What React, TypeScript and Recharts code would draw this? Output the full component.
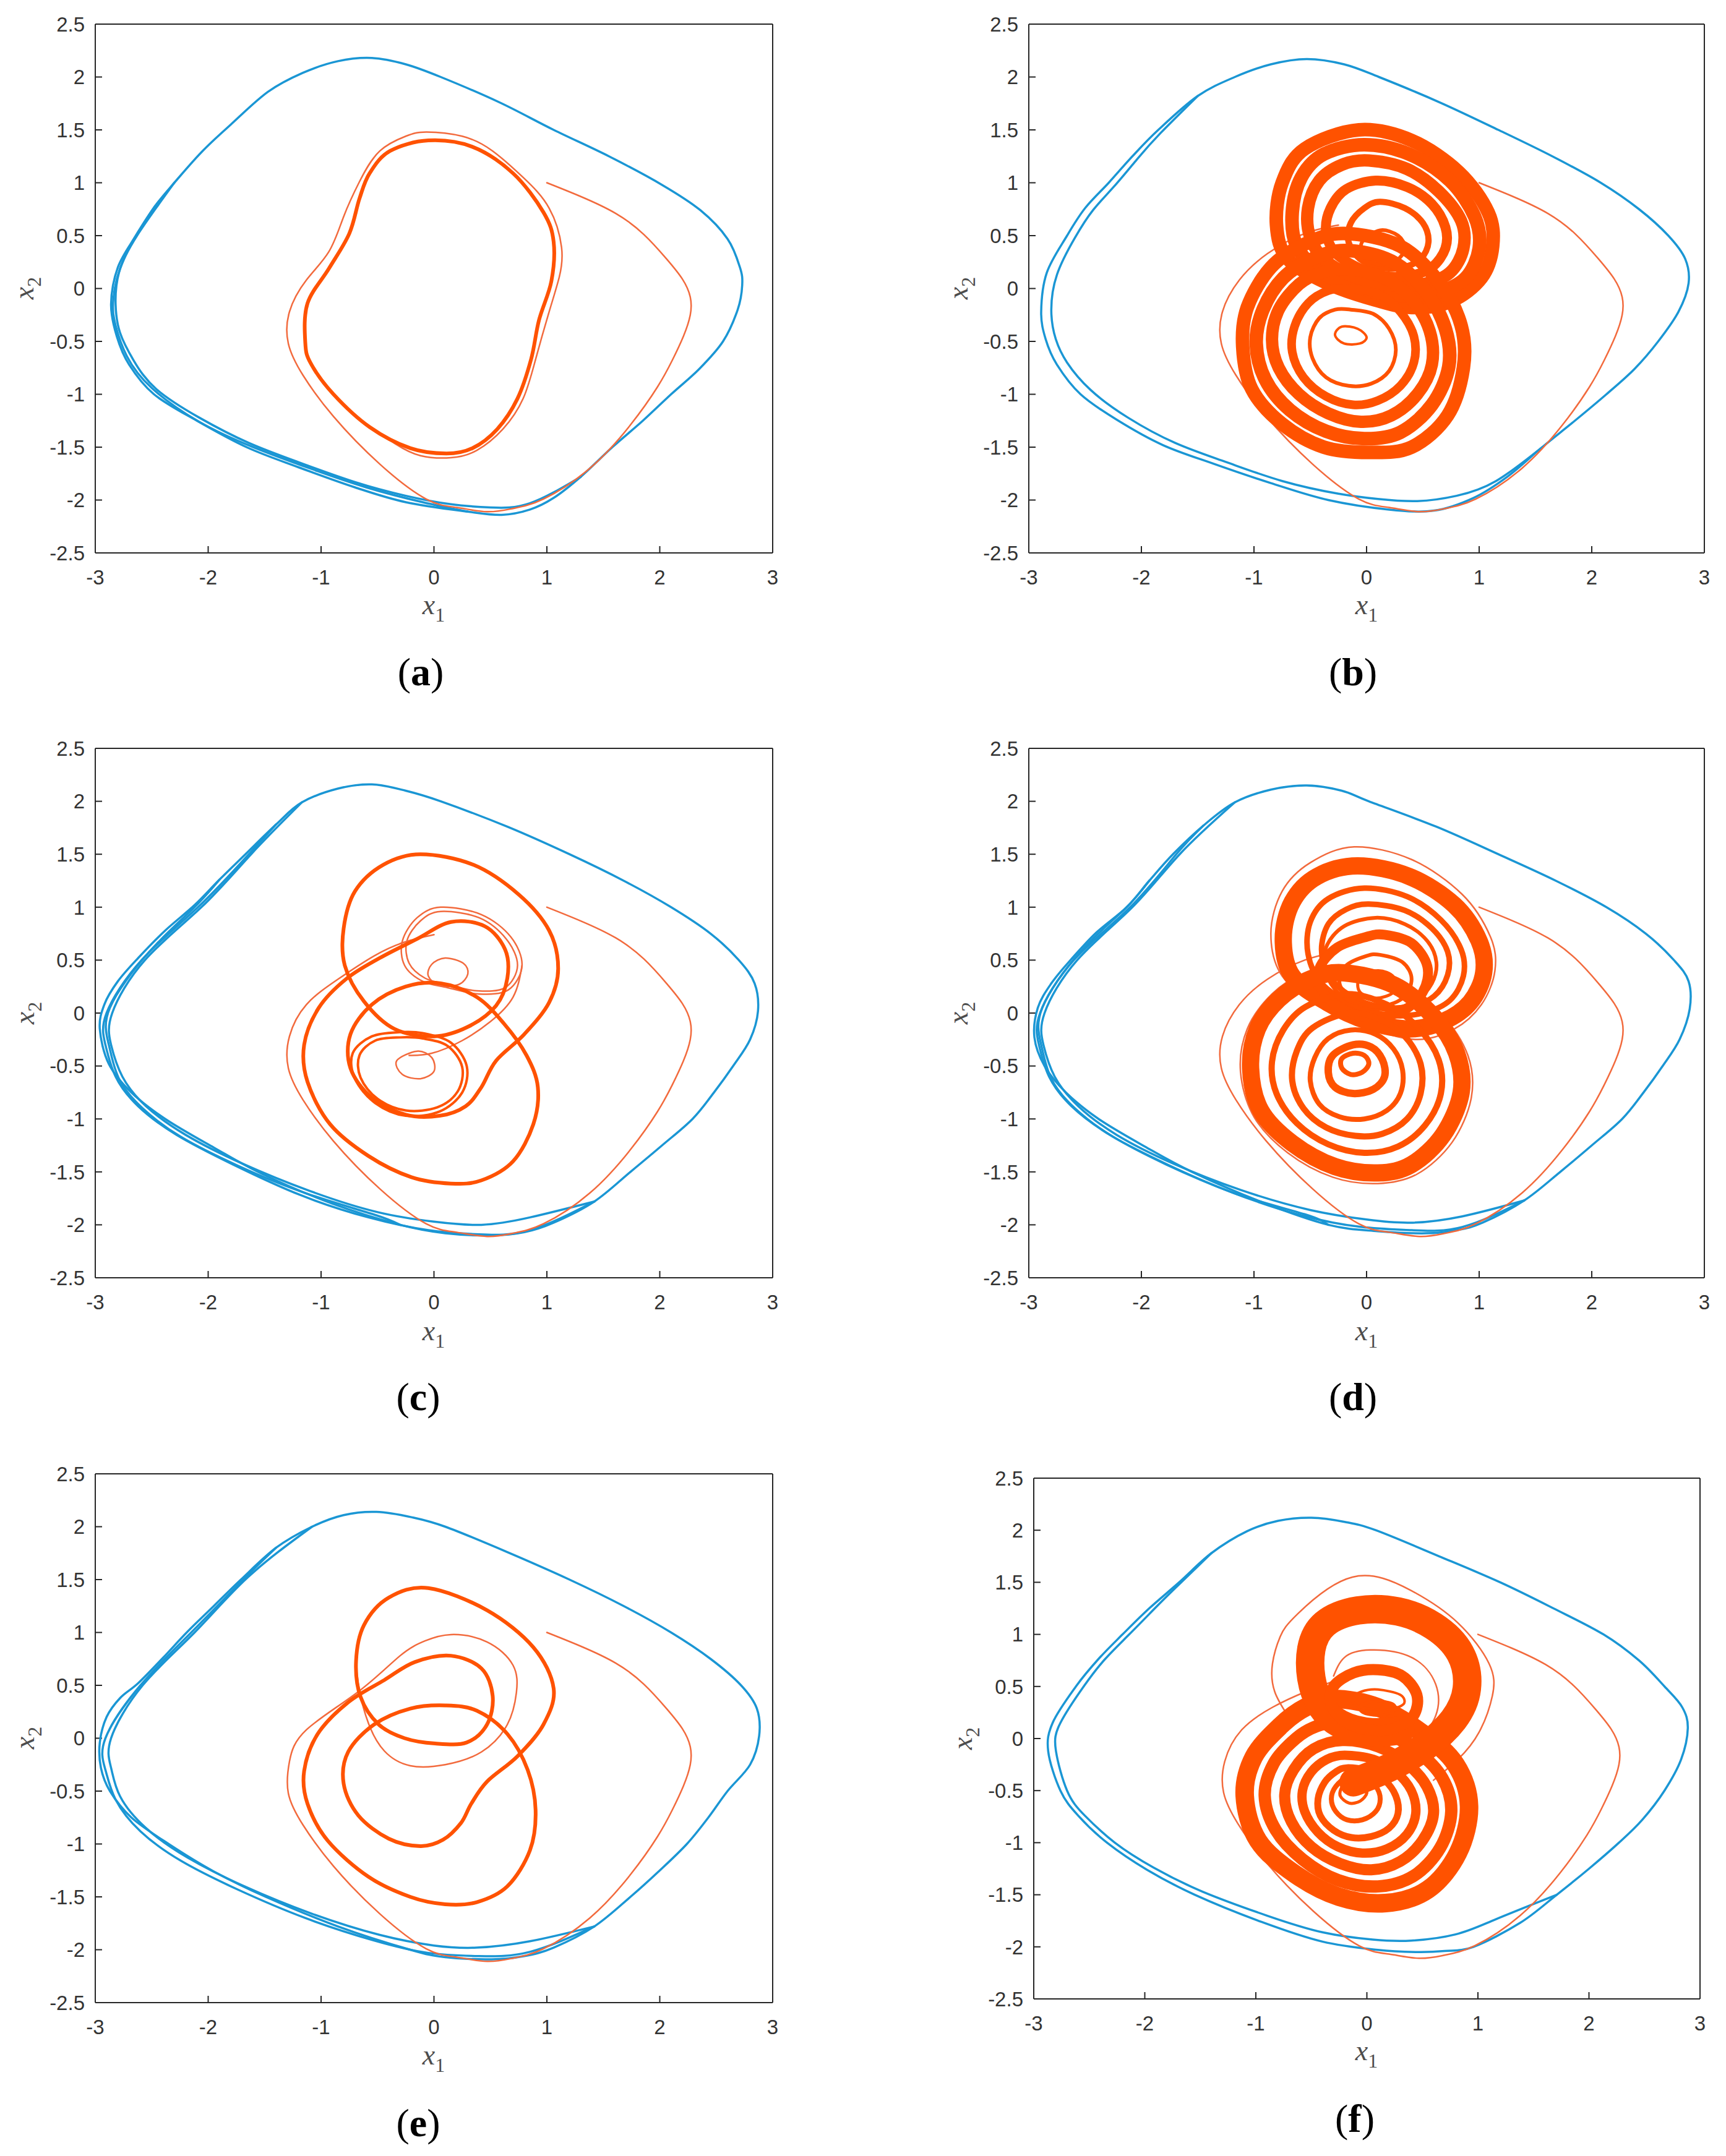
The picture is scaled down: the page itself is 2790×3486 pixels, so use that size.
import React from "react"
import { ScatterChart, Scatter, XAxis, YAxis } from "recharts"

type Pt = [number, number]

const xTicks = [-3, -2, -1, 0, 1, 2, 3]
const yTicks = [-2.5, -2, -1.5, -1, -0.5, 0, 0.5, 1, 1.5, 2, 2.5]

const BLUE = "#1a96d4"
const ORANGE = "#ff5200"
const ORANGE_THIN = "#f26a3d"
const FONT_SANS = "'Liberation Sans', Arial, Helvetica, sans-serif"
const FONT_SERIF = "'Liberation Serif', 'Times New Roman', serif"

// ---------- blue orbit (x1, x2) ----------
const blueA: Pt[] = [
  [-2.86, -0.15], [-2.8, 0.2], [-2.64, 0.5], [-2.47, 0.78], [-2.3, 1.0], [-2.05, 1.3], [-1.8, 1.55], [-1.47, 1.86],
  [-1.16, 2.04], [-0.85, 2.15], [-0.55, 2.18], [-0.25, 2.12], [0.06, 2.0], [0.58, 1.76], [1.06, 1.5], [1.55, 1.25],
  [2.02, 0.98], [2.36, 0.74], [2.6, 0.47], [2.71, 0.2], [2.73, 0.03], [2.69, -0.2], [2.56, -0.5], [2.35, -0.76],
  [2.1, -1.0], [1.85, -1.25], [1.58, -1.5], [1.3, -1.78], [1.06, -1.98], [0.85, -2.09], [0.6, -2.14], [0.3, -2.11],
  [-0.25, -2.02], [-0.7, -1.88], [-1.2, -1.69], [-1.66, -1.5], [-2.1, -1.25], [-2.48, -1.0], [-2.7, -0.72], [-2.81, -0.45],
]
const blueA2: Pt[] = [
  [-2.3, 1.0], [-2.63, 0.5], [-2.79, 0.15], [-2.82, -0.15], [-2.78, -0.42], [-2.66, -0.68], [-2.46, -0.95],
  [-2.08, -1.22], [-1.64, -1.46], [-1.18, -1.65], [-0.7, -1.83], [-0.25, -1.96], [0.15, -2.04], [0.5, -2.07],
  [0.85, -2.03], [1.3, -1.78],
]
const blueA3: Pt[] = [
  [-2.47, 0.78], [-2.74, 0.3], [-2.84, -0.1], [-2.82, -0.35], [-2.72, -0.64], [-2.5, -0.94], [-2.08, -1.26],
  [-1.6, -1.5], [-1.1, -1.7], [-0.6, -1.88], [-0.1, -2.02], [0.3, -2.11],
]

const blueB: Pt[] = [
  [-2.89, -0.22], [-2.84, 0.15], [-2.66, 0.5], [-2.5, 0.76], [-2.29, 1.0], [-2.08, 1.25], [-1.85, 1.5], [-1.5, 1.82],
  [-1.17, 2.0], [-0.85, 2.12], [-0.53, 2.17], [-0.2, 2.12], [0.11, 2.0], [0.65, 1.76], [1.17, 1.5], [1.65, 1.25],
  [2.08, 1.0], [2.42, 0.75], [2.68, 0.5], [2.83, 0.28], [2.86, 0.05], [2.77, -0.22], [2.59, -0.5], [2.38, -0.76],
  [2.13, -1.0], [1.85, -1.25], [1.56, -1.5], [1.25, -1.78], [0.95, -1.98], [0.6, -2.1], [0.2, -2.09], [-0.34, -2.0],
  [-0.85, -1.84], [-1.35, -1.66], [-1.81, -1.48], [-2.22, -1.24], [-2.54, -1.0], [-2.75, -0.72], [-2.85, -0.48],
]
const blueB2: Pt[] = [
  [-1.5, 1.82], [-1.83, 1.47], [-2.04, 1.22], [-2.23, 0.98], [-2.43, 0.74], [-2.59, 0.48], [-2.75, 0.13], [-2.8, -0.22],
  [-2.76, -0.48], [-2.66, -0.7], [-2.45, -0.96], [-2.12, -1.22], [-1.7, -1.46], [-1.25, -1.64], [-0.75, -1.82],
  [-0.25, -1.94], [0.1, -1.99], [0.45, -2.01], [0.8, -1.96], [1.15, -1.82], [1.56, -1.5],
]

const blueC: Pt[] = [
  [-2.96, -0.15], [-2.92, 0.08], [-2.8, 0.3], [-2.62, 0.52], [-2.38, 0.78], [-2.12, 1.02], [-1.9, 1.26], [-1.67, 1.5],
  [-1.4, 1.78], [-1.17, 1.99], [-0.85, 2.12], [-0.55, 2.16], [-0.25, 2.1], [0.06, 2.0], [0.65, 1.76], [1.2, 1.5],
  [1.68, 1.25], [2.1, 1.0], [2.45, 0.75], [2.7, 0.5], [2.84, 0.28], [2.87, 0.02], [2.8, -0.25], [2.65, -0.5],
  [2.48, -0.75], [2.29, -1.0], [2.02, -1.25], [1.74, -1.5], [1.42, -1.78], [1.06, -1.98], [0.8, -2.07], [0.51, -2.1],
  [0.1, -2.08], [-0.3, -2.0], [-0.9, -1.8], [-1.52, -1.52], [-1.95, -1.27], [-2.38, -1.0], [-2.68, -0.75], [-2.88, -0.48],
]
const blueC2: Pt[] = [
  [-1.17, 1.99], [-1.62, 1.5], [-2.06, 1.0], [-2.56, 0.5], [-2.85, 0.0], [-2.86, -0.3], [-2.76, -0.6], [-2.55, -0.88],
  [-2.2, -1.15], [-1.7, -1.42], [-1.1, -1.68], [-0.5, -1.88], [0.0, -1.97], [0.42, -2.0], [0.85, -1.93], [1.42, -1.78],
]
const blueC3: Pt[] = [
  [-1.4, 1.78], [-1.64, 1.5], [-2.09, 1.0], [-2.59, 0.5], [-2.9, 0.0], [-2.91, -0.3], [-2.82, -0.6], [-2.62, -0.88],
  [-2.28, -1.15], [-1.78, -1.43], [-1.18, -1.72], [-0.58, -1.93], [-0.05, -2.05], [0.4, -2.09], [0.85, -2.05], [1.42, -1.78],
]
const blueC4: Pt[] = [
  [-1.9, 1.26], [-2.14, 0.98], [-2.52, 0.58], [-2.87, 0.05], [-2.88, -0.3], [-2.79, -0.62], [-2.58, -0.9],
  [-2.24, -1.17], [-1.74, -1.44], [-1.14, -1.7], [-0.54, -1.9], [-0.3, -2.0],
]

const blueD: Pt[] = [
  [-2.95, -0.23], [-2.92, 0.05], [-2.8, 0.28], [-2.63, 0.5], [-2.4, 0.76], [-2.13, 1.0], [-1.93, 1.25], [-1.72, 1.5],
  [-1.45, 1.77], [-1.17, 1.99], [-0.85, 2.11], [-0.53, 2.15], [-0.22, 2.1], [0.02, 2.0], [0.62, 1.76], [1.17, 1.5],
  [1.68, 1.25], [2.13, 1.0], [2.48, 0.75], [2.73, 0.5], [2.86, 0.3], [2.87, 0.04], [2.78, -0.25], [2.63, -0.5],
  [2.46, -0.75], [2.27, -1.0], [2.0, -1.25], [1.72, -1.5], [1.4, -1.77], [1.03, -1.98], [0.8, -2.05], [0.53, -2.08],
  [0.1, -2.06], [-0.34, -2.0], [-0.92, -1.79], [-1.55, -1.5], [-1.97, -1.26], [-2.38, -1.0], [-2.67, -0.75], [-2.86, -0.5],
]
const blueD2: Pt[] = [
  [-1.17, 1.99], [-1.66, 1.5], [-2.08, 1.0], [-2.57, 0.5], [-2.86, 0.0], [-2.87, -0.3], [-2.77, -0.6], [-2.56, -0.88],
  [-2.22, -1.15], [-1.72, -1.42], [-1.12, -1.67], [-0.5, -1.86], [0.0, -1.95], [0.39, -1.98], [0.85, -1.92], [1.4, -1.77],
]
const blueD3: Pt[] = [
  [-1.45, 1.77], [-1.69, 1.5], [-2.1, 1.0], [-2.6, 0.5], [-2.9, 0.0], [-2.91, -0.3], [-2.82, -0.6], [-2.62, -0.88],
  [-2.28, -1.15], [-1.78, -1.43], [-1.18, -1.7], [-0.58, -1.91], [-0.05, -2.02], [0.4, -2.05], [0.85, -2.02], [1.4, -1.77],
]
const blueD4: Pt[] = [
  [-1.93, 1.25], [-2.15, 0.98], [-2.54, 0.58], [-2.88, 0.05], [-2.89, -0.3], [-2.8, -0.62], [-2.59, -0.9],
  [-2.25, -1.17], [-1.75, -1.44], [-1.15, -1.71], [-0.55, -1.9], [-0.34, -2.0],
]

const blueE: Pt[] = [
  [-2.96, -0.04], [-2.9, 0.2], [-2.78, 0.38], [-2.62, 0.52], [-2.4, 0.76], [-2.19, 1.0], [-1.95, 1.25], [-1.71, 1.5],
  [-1.4, 1.8], [-1.08, 2.0], [-0.8, 2.11], [-0.51, 2.14], [-0.2, 2.09], [0.1, 2.0], [0.65, 1.76], [1.2, 1.5],
  [1.68, 1.25], [2.1, 1.0], [2.45, 0.75], [2.72, 0.5], [2.86, 0.28], [2.88, 0.02], [2.8, -0.25], [2.6, -0.5],
  [2.43, -0.75], [2.24, -1.0], [2.0, -1.25], [1.74, -1.5], [1.42, -1.78], [1.06, -1.98], [0.8, -2.06], [0.51, -2.09],
  [0.1, -2.07], [-0.21, -2.0], [-0.85, -1.78], [-1.49, -1.5], [-1.95, -1.26], [-2.35, -1.0], [-2.68, -0.75],
  [-2.87, -0.5], [-2.95, -0.28],
]
const blueE2: Pt[] = [
  [-1.08, 2.0], [-1.65, 1.52], [-2.12, 1.0], [-2.58, 0.5], [-2.86, 0.0], [-2.86, -0.28], [-2.78, -0.55], [-2.55, -0.85],
  [-2.18, -1.13], [-1.68, -1.4], [-1.08, -1.66], [-0.48, -1.86], [0.0, -1.96], [0.38, -1.98], [0.85, -1.92], [1.42, -1.78],
]
const blueE3: Pt[] = [
  [-1.4, 1.8], [-1.68, 1.51], [-2.15, 1.0], [-2.6, 0.5], [-2.91, 0.0], [-2.91, -0.3], [-2.82, -0.58], [-2.6, -0.88],
  [-2.24, -1.16], [-1.74, -1.43], [-1.14, -1.7], [-0.54, -1.91], [-0.05, -2.03], [0.4, -2.06], [0.85, -2.02], [1.42, -1.78],
]

const blueF: Pt[] = [
  [-2.87, -0.12], [-2.83, 0.15], [-2.62, 0.5], [-2.42, 0.76], [-2.2, 1.0], [-1.96, 1.25], [-1.69, 1.5], [-1.4, 1.78],
  [-1.08, 1.99], [-0.8, 2.09], [-0.5, 2.12], [-0.2, 2.08], [0.08, 2.0], [0.65, 1.75], [1.2, 1.5], [1.68, 1.25],
  [2.13, 1.0], [2.45, 0.75], [2.68, 0.5], [2.84, 0.3], [2.89, 0.1], [2.83, -0.2], [2.68, -0.5], [2.48, -0.78],
  [2.27, -1.0], [2.0, -1.25], [1.71, -1.5], [1.38, -1.77], [0.96, -2.0], [0.7, -2.04], [0.45, -2.05], [0.1, -2.03],
  [-0.4, -1.95], [-0.95, -1.76], [-1.55, -1.5], [-1.98, -1.26], [-2.34, -1.0], [-2.6, -0.74], [-2.76, -0.5],
]
const blueF2: Pt[] = [
  [-1.4, 1.78], [-1.72, 1.45], [-1.9, 1.26], [-2.14, 1.0], [-2.36, 0.76], [-2.55, 0.5], [-2.76, 0.15], [-2.8, -0.12],
  [-2.7, -0.5], [-2.54, -0.74], [-2.27, -1.0], [-1.92, -1.24], [-1.48, -1.47], [-0.9, -1.7], [-0.4, -1.86], [0.05, -1.93],
  [0.4, -1.94], [0.8, -1.88], [1.15, -1.74], [1.71, -1.5],
]

// ---------- orange: the transient from (1, 1) is the same in every panel ----------
const transientHead: Pt[] = [
  [1.0, 1.0], [1.3, 0.87], [1.61, 0.71], [1.86, 0.51], [2.06, 0.28], [2.2, 0.09], [2.27, -0.08], [2.27, -0.25],
  [2.21, -0.45], [2.11, -0.68], [1.98, -0.93], [1.74, -1.29], [1.38, -1.7], [0.97, -1.99], [0.7, -2.08], [0.47, -2.11],
  [0.2, -2.07], [-0.07, -1.99], [-0.48, -1.66], [-0.89, -1.21], [-1.16, -0.82], [-1.29, -0.52], [-1.28, -0.22], [-1.13, 0.08],
]
const tailA: Pt[] = [
  [-0.93, 0.35], [-0.8, 0.68], [-0.66, 1.01], [-0.48, 1.3], [-0.25, 1.44], [-0.07, 1.48], [0.25, 1.44], [0.52, 1.3],
  [0.79, 1.05], [1.02, 0.76], [1.13, 0.39], [1.11, 0.11], [1.02, -0.22], [0.9, -0.67], [0.79, -1.04], [0.61, -1.33],
  [0.38, -1.53], [0.15, -1.6], [-0.12, -1.58], [-0.34, -1.47], [-0.6, -1.28],
]
const tailB: Pt[] = [[-0.88, 0.33], [-0.55, 0.52], [-0.25, 0.6]]
const tailC: Pt[] = [[-0.85, 0.32], [-0.53, 0.54], [-0.26, 0.67], [0.0, 0.74]]
const tailD: Pt[] = [[-0.88, 0.32], [-0.55, 0.5], [-0.25, 0.58]]
const tailE: Pt[] = [
  [-0.67, 0.44], [-0.3, 0.78], [-0.08, 0.92], [0.15, 0.98], [0.47, 0.91], [0.7, 0.69], [0.73, 0.43], [0.65, 0.13],
  [0.42, -0.13], [0.1, -0.25], [-0.21, -0.26], [-0.44, -0.12], [-0.58, 0.14], [-0.66, 0.45], [-0.69, 0.7],
]
const tailF: Pt[] = [[-0.85, 0.3], [-0.55, 0.45], [-0.3, 0.55]]

// (a) limit cycle
const cycleA: Pt[] = [
  [-0.05, 1.4], [0.34, 1.34], [0.7, 1.09], [0.97, 0.72], [1.06, 0.44], [1.04, 0.07], [0.93, -0.3], [0.86, -0.67],
  [0.74, -1.04], [0.56, -1.33], [0.34, -1.51], [0.11, -1.56], [-0.21, -1.51], [-0.57, -1.31], [-0.89, -1.0],
  [-1.09, -0.71], [-1.14, -0.51], [-1.12, -0.14], [-0.93, 0.19], [-0.75, 0.52], [-0.66, 0.85], [-0.57, 1.09], [-0.39, 1.3],
]

// (b) double-scroll rings, upper lobe then lower lobe
const bUpper1: Pt[] = [
  [-0.07, 1.5], [0.4, 1.4], [0.82, 1.1], [1.08, 0.72], [1.12, 0.4], [1.02, 0.1], [0.75, -0.12], [0.4, -0.18],
  [0.05, -0.1], [-0.35, 0.05], [-0.7, 0.28], [-0.8, 0.6], [-0.75, 1.0], [-0.55, 1.32],
]
const bUpper2: Pt[] = [
  [-0.02, 1.36], [0.38, 1.27], [0.74, 1.02], [0.96, 0.68], [1.0, 0.38], [0.88, 0.1], [0.62, -0.04], [0.3, -0.07],
  [-0.05, 0.0], [-0.4, 0.15], [-0.62, 0.4], [-0.66, 0.72], [-0.58, 1.05], [-0.38, 1.27],
]
const bUpper3: Pt[] = [
  [0.02, 1.21], [0.36, 1.13], [0.64, 0.92], [0.84, 0.64], [0.86, 0.38], [0.74, 0.15], [0.5, 0.04], [0.22, 0.03],
  [-0.08, 0.1], [-0.36, 0.26], [-0.5, 0.48], [-0.52, 0.76], [-0.42, 1.02], [-0.22, 1.17],
]
const bUpper4: Pt[] = [
  [0.08, 1.02], [0.36, 0.96], [0.58, 0.8], [0.7, 0.58], [0.7, 0.38], [0.58, 0.2], [0.38, 0.12], [0.15, 0.12],
  [-0.08, 0.2], [-0.28, 0.34], [-0.36, 0.54], [-0.32, 0.76], [-0.18, 0.94],
]
const bUpper5: Pt[] = [
  [0.12, 0.82], [0.34, 0.76], [0.5, 0.62], [0.55, 0.44], [0.48, 0.28], [0.32, 0.2], [0.12, 0.2], [-0.06, 0.28],
  [-0.16, 0.44], [-0.14, 0.62], [-0.02, 0.76],
]
const bUpper6: Pt[] = [[0.12, 0.55], [0.28, 0.5], [0.34, 0.38], [0.26, 0.26], [0.1, 0.23], [-0.02, 0.3], [-0.04, 0.44]]
const bLower1: Pt[] = [
  [-0.2, 0.52], [0.3, 0.4], [0.65, 0.05], [0.84, -0.35], [0.86, -0.75], [0.72, -1.2], [0.4, -1.5], [0.02, -1.55],
  [-0.38, -1.5], [-0.75, -1.28], [-1.02, -0.95], [-1.1, -0.55], [-1.06, -0.18], [-0.85, 0.2], [-0.55, 0.42],
]
const bLower2: Pt[] = [
  [-0.18, 0.36], [0.22, 0.26], [0.52, -0.02], [0.7, -0.38], [0.73, -0.74], [0.58, -1.1], [0.3, -1.36], [-0.02, -1.42],
  [-0.36, -1.35], [-0.68, -1.15], [-0.9, -0.86], [-0.98, -0.52], [-0.92, -0.2], [-0.74, 0.1], [-0.48, 0.28],
]
const bLower3: Pt[] = [
  [-0.16, 0.18], [0.16, 0.1], [0.4, -0.1], [0.56, -0.4], [0.58, -0.72], [0.45, -1.0], [0.22, -1.2], [-0.05, -1.26],
  [-0.34, -1.18], [-0.6, -1.0], [-0.78, -0.75], [-0.84, -0.48], [-0.78, -0.2], [-0.6, 0.04], [-0.4, 0.15],
]
const bLower4: Pt[] = [
  [-0.14, 0.0], [0.12, -0.06], [0.3, -0.22], [0.42, -0.45], [0.42, -0.7], [0.3, -0.92], [0.1, -1.06], [-0.12, -1.1],
  [-0.36, -1.02], [-0.56, -0.84], [-0.66, -0.6], [-0.64, -0.36], [-0.52, -0.14], [-0.34, -0.02],
]
const bLower5: Pt[] = [
  [-0.14, -0.2], [0.06, -0.24], [0.2, -0.38], [0.26, -0.58], [0.2, -0.78], [0.04, -0.9], [-0.16, -0.92], [-0.36, -0.84],
  [-0.48, -0.66], [-0.5, -0.46], [-0.42, -0.28], [-0.28, -0.2],
]
const bLower6: Pt[] = [[-0.22, -0.36], [-0.08, -0.38], [0.0, -0.46], [-0.06, -0.52], [-0.2, -0.52], [-0.28, -0.44]]

// (c) period-type orbit with a few extra passes
const cMain: Pt[] = [
  [-0.12, 1.5], [0.35, 1.4], [0.75, 1.12], [1.02, 0.78], [1.1, 0.42], [1.02, 0.1], [0.8, -0.2], [0.55, -0.45],
  [0.42, -0.7], [0.28, -0.88], [0.05, -0.97], [-0.25, -0.96], [-0.55, -0.8], [-0.74, -0.52], [-0.74, -0.2],
  [-0.55, 0.08], [-0.25, 0.25], [0.06, 0.28], [0.38, 0.15], [0.62, -0.1], [0.82, -0.4], [0.92, -0.7], [0.88, -1.05],
  [0.7, -1.4], [0.42, -1.58], [0.15, -1.61], [-0.2, -1.55], [-0.58, -1.35], [-0.92, -1.05], [-1.12, -0.65],
  [-1.15, -0.3], [-1.02, 0.05], [-0.78, 0.32], [-0.48, 0.52], [-0.15, 0.7], [0.15, 0.86], [0.45, 0.82], [0.63, 0.6],
  [0.65, 0.33], [0.55, 0.07], [0.3, -0.13], [0.0, -0.22], [-0.35, -0.15], [-0.62, 0.11], [-0.79, 0.45], [-0.8, 0.8],
  [-0.7, 1.15], [-0.45, 1.4],
]
const cRing1: Pt[] = [
  [-0.1, -0.19], [0.15, -0.28], [0.29, -0.5], [0.25, -0.75], [0.05, -0.93], [-0.25, -0.97], [-0.52, -0.85],
  [-0.7, -0.62], [-0.72, -0.38], [-0.55, -0.22], [-0.3, -0.18],
]
const cRing2: Pt[] = [
  [-0.1, -0.24], [0.12, -0.31], [0.25, -0.51], [0.21, -0.74], [0.03, -0.89], [-0.25, -0.92], [-0.5, -0.81],
  [-0.65, -0.61], [-0.66, -0.4], [-0.52, -0.26], [-0.3, -0.23],
]
const cSmall: Pt[] = [[-0.15, -0.36], [-0.02, -0.42], [0.0, -0.55], [-0.12, -0.62], [-0.28, -0.58], [-0.33, -0.45]]
const cLoop1: Pt[] = [
  [0.06, 1.0], [0.42, 0.93], [0.68, 0.72], [0.78, 0.45], [0.66, 0.22], [0.4, 0.18], [0.12, 0.24], [-0.1, 0.3],
  [-0.26, 0.45], [-0.28, 0.68], [-0.15, 0.9],
]
const cLoop2: Pt[] = [
  [0.06, 0.96], [0.4, 0.9], [0.64, 0.7], [0.74, 0.45], [0.63, 0.24], [0.38, 0.21], [0.12, 0.27], [-0.08, 0.33],
  [-0.22, 0.47], [-0.24, 0.68], [-0.12, 0.87],
]
const cSmallTop: Pt[] = [[0.1, 0.52], [0.26, 0.47], [0.3, 0.37], [0.22, 0.27], [0.05, 0.26], [-0.05, 0.35], [-0.02, 0.46]]
const cLink: Pt[] = [[0.78, 0.45], [0.7, 0.15], [0.5, -0.08], [0.25, -0.26], [-0.02, -0.38], [-0.22, -0.4]]

// (d) rings
const dUpper0: Pt[] = [
  [-0.11, 1.57], [0.4, 1.45], [0.85, 1.12], [1.1, 0.72], [1.14, 0.4], [1.02, 0.08], [0.78, -0.15], [0.45, -0.25],
  [0.05, -0.15], [-0.4, 0.05], [-0.75, 0.35], [-0.85, 0.75], [-0.75, 1.15], [-0.5, 1.42],
]
const dUpper1: Pt[] = [
  [-0.08, 1.39], [0.38, 1.29], [0.78, 1.02], [1.0, 0.68], [1.04, 0.38], [0.92, 0.1], [0.68, -0.08], [0.38, -0.15],
  [0.02, -0.08], [-0.35, 0.1], [-0.66, 0.35], [-0.74, 0.7], [-0.66, 1.05], [-0.44, 1.29],
]
const dUpper2: Pt[] = [
  [-0.02, 1.18], [0.36, 1.1], [0.66, 0.88], [0.84, 0.6], [0.86, 0.35], [0.74, 0.12], [0.5, 0.0], [0.2, -0.02],
  [-0.12, 0.08], [-0.4, 0.28], [-0.52, 0.56], [-0.5, 0.86], [-0.34, 1.08],
]
const dUpper3: Pt[] = [
  [0.02, 1.03], [0.34, 0.97], [0.58, 0.8], [0.72, 0.58], [0.72, 0.36], [0.6, 0.16], [0.38, 0.06], [0.12, 0.06],
  [-0.14, 0.16], [-0.34, 0.36], [-0.4, 0.6], [-0.34, 0.84], [-0.18, 0.98],
]
const dUpper3b: Pt[] = [
  [0.08, 0.9], [0.34, 0.84], [0.54, 0.68], [0.62, 0.48], [0.58, 0.28], [0.44, 0.12], [0.22, 0.04], [-0.02, 0.06],
  [-0.24, 0.18], [-0.36, 0.38], [-0.36, 0.62], [-0.2, 0.82],
]
const dUpper4: Pt[] = [
  [0.16, 0.74], [0.4, 0.66], [0.54, 0.44], [0.5, 0.2], [0.32, 0.02], [0.04, -0.04], [-0.22, 0.04], [-0.4, 0.22],
  [-0.42, 0.42], [-0.26, 0.62], [0.0, 0.72],
]
const dUpper5: Pt[] = [[0.12, 0.55], [0.32, 0.48], [0.4, 0.32], [0.32, 0.14], [0.1, 0.06], [-0.12, 0.12], [-0.24, 0.28], [-0.18, 0.45], [0.0, 0.54]]
const dUpper6: Pt[] = [[0.1, 0.4], [0.24, 0.34], [0.24, 0.2], [0.08, 0.14], [-0.06, 0.2], [-0.06, 0.33]]
const dLower0: Pt[] = [
  [-0.22, 0.45], [0.28, 0.33], [0.66, 0.0], [0.9, -0.4], [0.93, -0.8], [0.76, -1.22], [0.45, -1.52], [0.1, -1.61],
  [-0.3, -1.55], [-0.7, -1.32], [-1.0, -0.98], [-1.12, -0.55], [-1.06, -0.15], [-0.84, 0.18], [-0.55, 0.38],
]
const dLower1: Pt[] = [
  [-0.2, 0.38], [0.25, 0.26], [0.6, -0.04], [0.8, -0.38], [0.84, -0.75], [0.68, -1.15], [0.4, -1.43], [0.1, -1.51],
  [-0.28, -1.45], [-0.66, -1.23], [-0.94, -0.92], [-1.03, -0.52], [-0.97, -0.15], [-0.78, 0.13], [-0.5, 0.32],
]
const dLower2: Pt[] = [
  [-0.18, 0.18], [0.18, 0.08], [0.46, -0.14], [0.64, -0.44], [0.66, -0.76], [0.52, -1.06], [0.28, -1.26], [-0.02, -1.32],
  [-0.34, -1.24], [-0.62, -1.04], [-0.8, -0.76], [-0.84, -0.46], [-0.74, -0.16], [-0.54, 0.06],
]
const dLower3: Pt[] = [
  [-0.16, 0.0], [0.12, -0.06], [0.34, -0.22], [0.48, -0.48], [0.48, -0.76], [0.36, -1.0], [0.14, -1.14], [-0.1, -1.16],
  [-0.36, -1.08], [-0.56, -0.9], [-0.66, -0.64], [-0.62, -0.36], [-0.48, -0.14],
]
const dLower4: Pt[] = [
  [-0.14, -0.16], [0.08, -0.2], [0.24, -0.34], [0.32, -0.54], [0.3, -0.76], [0.18, -0.92], [-0.02, -1.0], [-0.24, -0.98],
  [-0.42, -0.86], [-0.5, -0.64], [-0.46, -0.42], [-0.34, -0.24],
]
const dLower5: Pt[] = [[-0.12, -0.3], [0.04, -0.32], [0.14, -0.44], [0.16, -0.6], [0.06, -0.72], [-0.12, -0.76], [-0.28, -0.7], [-0.34, -0.56], [-0.3, -0.4]]
const dLower6: Pt[] = [[-0.12, -0.38], [-0.02, -0.4], [0.02, -0.48], [-0.04, -0.56], [-0.14, -0.58], [-0.22, -0.52], [-0.22, -0.43]]

// (e) orbit
const eMain: Pt[] = [
  [-0.05, 1.42], [0.47, 1.21], [0.88, 0.86], [1.06, 0.47], [0.97, 0.13], [0.74, -0.17], [0.47, -0.41], [0.33, -0.62],
  [0.24, -0.8], [0.08, -0.96], [-0.12, -1.02], [-0.4, -0.95], [-0.67, -0.73], [-0.8, -0.43], [-0.76, -0.13],
  [-0.53, 0.13], [-0.21, 0.28], [0.1, 0.31], [0.38, 0.26], [0.65, 0.04], [0.83, -0.3], [0.9, -0.68], [0.85, -1.06],
  [0.65, -1.4], [0.38, -1.55], [0.1, -1.57], [-0.21, -1.5], [-0.58, -1.31], [-0.94, -0.97], [-1.12, -0.62],
  [-1.15, -0.31], [-1.03, 0.04], [-0.76, 0.34], [-0.44, 0.55], [-0.17, 0.72], [0.15, 0.78], [0.42, 0.66], [0.52, 0.4],
  [0.47, 0.13], [0.29, -0.04], [0.01, -0.05], [-0.26, 0.0], [-0.49, 0.13], [-0.65, 0.39], [-0.69, 0.73], [-0.62, 1.07],
  [-0.4, 1.33],
]

// (f) band + lower disk
const fOuterThin: Pt[] = [
  [-0.7, 0.2], [-0.83, 0.45], [-0.85, 0.72], [-0.78, 0.98], [-0.62, 1.2], [-0.13, 1.55], [0.4, 1.42], [0.82, 1.11],
  [1.1, 0.72], [1.13, 0.41], [1.01, 0.06], [0.82, -0.2], [0.6, -0.4],
]
const fInnerThin: Pt[] = [[-0.3, 0.6], [-0.2, 0.78], [0.03, 0.85], [0.4, 0.78], [0.62, 0.52], [0.62, 0.22], [0.45, -0.02], [0.2, -0.18]]
const fBand: Pt[] = [
  [-0.12, -0.42], [0.2, -0.28], [0.52, -0.08], [0.78, 0.18], [0.9, 0.48], [0.84, 0.82], [0.6, 1.08], [0.28, 1.22],
  [-0.08, 1.23], [-0.38, 1.1], [-0.5, 0.86], [-0.5, 0.58], [-0.42, 0.33], [-0.24, 0.14], [0.05, 0.06], [0.3, 0.08],
]
const fHoleRing: Pt[] = [
  [0.1, 0.66], [0.32, 0.6], [0.45, 0.42], [0.42, 0.22], [0.25, 0.1], [0.05, 0.08], [-0.18, 0.15], [-0.32, 0.32],
  [-0.3, 0.5], [-0.12, 0.63],
]
const fStripe1: Pt[] = [[0.1, 0.47], [0.3, 0.42], [0.33, 0.33], [0.18, 0.28], [-0.05, 0.3], [-0.14, 0.38], [-0.05, 0.45]]
const fStripe2: Pt[] = [[0.1, 0.36], [0.24, 0.33], [0.24, 0.26], [0.1, 0.22], [-0.04, 0.25], [-0.06, 0.32]]
const fLower1: Pt[] = [
  [-0.3, 0.38], [0.1, 0.3], [0.5, 0.05], [0.8, -0.25], [0.92, -0.65], [0.82, -1.1], [0.55, -1.45], [0.17, -1.58],
  [-0.25, -1.52], [-0.65, -1.3], [-0.98, -0.98], [-1.1, -0.55], [-1.02, -0.18], [-0.78, 0.12], [-0.55, 0.3],
]
const fLower2: Pt[] = [
  [-0.25, 0.15], [0.12, 0.08], [0.45, -0.12], [0.68, -0.38], [0.76, -0.7], [0.66, -1.05], [0.42, -1.32], [0.1, -1.42],
  [-0.26, -1.36], [-0.58, -1.16], [-0.82, -0.88], [-0.92, -0.55], [-0.84, -0.24], [-0.64, 0.0], [-0.45, 0.12],
]
const fLower3: Pt[] = [
  [-0.22, -0.02], [0.1, -0.08], [0.36, -0.24], [0.54, -0.46], [0.6, -0.72], [0.5, -0.98], [0.3, -1.18], [0.04, -1.26],
  [-0.24, -1.2], [-0.5, -1.04], [-0.68, -0.8], [-0.74, -0.54], [-0.66, -0.3], [-0.48, -0.1],
]
const fLower4: Pt[] = [
  [-0.2, -0.16], [0.06, -0.2], [0.26, -0.32], [0.4, -0.5], [0.44, -0.72], [0.36, -0.92], [0.18, -1.06], [-0.04, -1.1],
  [-0.26, -1.04], [-0.44, -0.9], [-0.56, -0.7], [-0.58, -0.5], [-0.5, -0.32], [-0.36, -0.2],
]
const fLower5: Pt[] = [
  [-0.18, -0.28], [0.02, -0.31], [0.16, -0.4], [0.26, -0.55], [0.28, -0.72], [0.2, -0.86], [0.04, -0.94], [-0.14, -0.95],
  [-0.3, -0.88], [-0.42, -0.74], [-0.44, -0.58], [-0.38, -0.42], [-0.28, -0.32],
]
const fLower6: Pt[] = [[-0.16, -0.36], [-0.02, -0.38], [0.08, -0.46], [0.12, -0.58], [0.08, -0.7], [-0.04, -0.78], [-0.18, -0.78], [-0.28, -0.7], [-0.32, -0.58], [-0.28, -0.46]]
const fLower7: Pt[] = [[-0.14, -0.41], [-0.04, -0.44], [0.0, -0.52], [-0.06, -0.6], [-0.16, -0.62], [-0.24, -0.55], [-0.22, -0.46]]

// closed Catmull-Rom curve so the loops join without a kink
const closedCurve = (context: any) => {
  let pts: number[][] = []
  return {
    areaStart() {},
    areaEnd() {},
    lineStart() {
      pts = []
    },
    lineEnd() {
      const n = pts.length
      if (n < 3) return
      context.moveTo(pts[0][0], pts[0][1])
      for (let i = 0; i < n; i++) {
        const p0 = pts[(i - 1 + n) % n]
        const p1 = pts[i]
        const p2 = pts[(i + 1) % n]
        const p3 = pts[(i + 2) % n]
        context.bezierCurveTo(
          p1[0] + (p2[0] - p0[0]) / 6,
          p1[1] + (p2[1] - p0[1]) / 6,
          p2[0] - (p3[0] - p1[0]) / 6,
          p2[1] - (p3[1] - p1[1]) / 6,
          p2[0],
          p2[1]
        )
      }
      context.closePath()
    },
    point(x: number, y: number) {
      pts.push([+x, +y])
    },
  }
}

interface Trace {
  pts: Pt[]
  color: string
  width: number
  closed?: boolean
}

const blue = (pts: Pt[], closed = false): Trace => ({ pts, color: BLUE, width: 3.5, closed })
const thin = (pts: Pt[], closed = false): Trace => ({ pts, color: ORANGE_THIN, width: 2.5, closed })
const ring = (pts: Pt[], width: number): Trace => ({ pts, color: ORANGE, width, closed: true })

const panels = [
  {
    letter: "a",
    box: { left: 154, top: 39, width: 1095, height: 855 },
    x1: [701, 983], x2: [39, 466], title: [680, 1089],
    traces: [
      blue(blueA, true), blue(blueA2), blue(blueA3),
      thin([...transientHead, ...tailA]),
      ring(cycleA, 6),
    ],
  },
  {
    letter: "b",
    box: { left: 1663, top: 39, width: 1092, height: 855 },
    x1: [2209, 983], x2: [1549, 466], title: [2187, 1089],
    traces: [
      blue(blueB, true), blue(blueB2),
      thin([...transientHead, ...tailB]),
      ring(bUpper1, 22), ring(bUpper2, 22), ring(bUpper3, 20), ring(bUpper4, 16), ring(bUpper5, 10), ring(bUpper6, 6),
      ring(bLower1, 22), ring(bLower2, 22), ring(bLower3, 20), ring(bLower4, 14), ring(bLower5, 6), ring(bLower6, 4),
    ],
  },
  {
    letter: "c",
    box: { left: 154, top: 1210, width: 1095, height: 856 },
    x1: [701, 2157], x2: [40, 1638], title: [676, 2261],
    traces: [
      blue(blueC, true), blue(blueC2), blue(blueC3), blue(blueC4),
      thin([...transientHead, ...tailC]),
      thin(cLoop1, true), thin(cLoop2, true), thin(cSmallTop, true), thin(cSmall, true), thin(cLink),
      ring(cMain, 6), ring(cRing1, 4), ring(cRing2, 4),
    ],
  },
  {
    letter: "d",
    box: { left: 1663, top: 1210, width: 1092, height: 856 },
    x1: [2209, 2157], x2: [1549, 1638], title: [2187, 2261],
    traces: [
      blue(blueD, true), blue(blueD2), blue(blueD3), blue(blueD4),
      thin([...transientHead, ...tailD]),
      thin(dUpper0, true), thin(dLower0, true),
      ring(dUpper1, 28), ring(dUpper2, 9), ring(dUpper3, 9), ring(dUpper3b, 6), ring(dUpper4, 16), ring(dUpper5, 6), ring(dUpper6, 5),
      ring(dLower1, 28), ring(dLower2, 10), ring(dLower3, 10), ring(dLower4, 8), ring(dLower5, 12), ring(dLower6, 8),
    ],
  },
  {
    letter: "e",
    box: { left: 154, top: 2383, width: 1095, height: 855 },
    x1: [701, 3328], x2: [40, 2810], title: [676, 3435],
    traces: [
      blue(blueE, true), blue(blueE2), blue(blueE3),
      thin([...transientHead, ...tailE]),
      ring(eMain, 6),
    ],
  },
  {
    letter: "f",
    box: { left: 1671, top: 2390, width: 1077, height: 842 },
    x1: [2209, 3321], x2: [1556, 2811], title: [2190, 3428],
    traces: [
      blue(blueF, true), blue(blueF2),
      thin([...transientHead, ...tailF]),
      thin(fOuterThin), thin(fInnerThin),
      ring(fLower1, 30), ring(fLower2, 20), ring(fLower3, 18), ring(fLower4, 15), ring(fLower5, 11), ring(fLower6, 8), ring(fLower7, 5),
      { pts: fBand, color: ORANGE, width: 46 },
      ring(fHoleRing, 18),
      { pts: fStripe1, color: ORANGE, width: 4, closed: true },
      { pts: fStripe2, color: ORANGE, width: 4, closed: true },
    ],
  },
]

const NoDot = () => <g />

const axisLineStyle = { stroke: "#262626", strokeWidth: 2 }
const tickText = { fontSize: 33, fill: "#333333", fontFamily: FONT_SANS }

const PhasePanel = ({ box, traces }: { box: { left: number; top: number; width: number; height: number }; traces: Trace[] }) => (
  <div style={{ position: "absolute", left: box.left - 150, top: box.top - 20 }}>
    <ScatterChart
      width={box.width + 170}
      height={box.height + 120}
      margin={{ top: 10, right: 10, bottom: 0, left: 0 }}>
      <XAxis
        xAxisId="bottom"
        type="number"
        dataKey="x"
        domain={[-3, 3]}
        ticks={xTicks}
        interval={0}
        allowDataOverflow
        height={100}
        axisLine={axisLineStyle}
        tickLine={axisLineStyle}
        tickSize={-11}
        tickMargin={39}
        tick={tickText}
      />
      <XAxis
        xAxisId="top"
        orientation="top"
        type="number"
        domain={[-3, 3]}
        ticks={xTicks}
        interval={0}
        allowDataOverflow
        height={10}
        axisLine={axisLineStyle}
        tickLine={axisLineStyle}
        tickSize={-11}
        tick={false}
      />
      <YAxis
        yAxisId="left"
        type="number"
        dataKey="y"
        domain={[-2.5, 2.5]}
        ticks={yTicks}
        interval={0}
        allowDataOverflow
        width={150}
        axisLine={axisLineStyle}
        tickLine={axisLineStyle}
        tickSize={-11}
        tickMargin={28}
        tick={tickText}
      />
      <YAxis
        yAxisId="right"
        orientation="right"
        type="number"
        domain={[-2.5, 2.5]}
        ticks={yTicks}
        interval={0}
        allowDataOverflow
        width={10}
        axisLine={axisLineStyle}
        tickLine={axisLineStyle}
        tickSize={-11}
        tick={false}
      />
      {traces.map((t, i) => (
        <Scatter
          key={i}
          xAxisId="bottom"
          yAxisId="left"
          data={t.pts.map(([x, y]) => ({ x, y }))}
          fill="none"
          line={{ stroke: t.color, strokeWidth: t.width, strokeLinejoin: "round", strokeLinecap: "round" }}
          lineJointType={t.closed ? (closedCurve as any) : "natural"}
          shape={NoDot}
          isAnimationActive={false}
        />
      ))}
    </ScatterChart>
  </div>
)

const App = () => (
  <div style={{ position: "absolute", left: 0, top: 0, width: 2790, height: 3486, background: "#fff", overflow: "hidden" }}>
    {panels.map(p => (
      <React.Fragment key={p.letter}>
        <PhasePanel box={p.box} traces={p.traces} />
        <div
          style={{
            position: "absolute", left: p.x1[0] - 50, top: p.x1[1] - 28, width: 100, textAlign: "center",
            fontFamily: FONT_SERIF, fontSize: 46, lineHeight: "46px", color: "#4d4d4d", whiteSpace: "nowrap",
          }}>
          <span style={{ fontStyle: "italic" }}>x</span>
          <span style={{ fontSize: 32, position: "relative", top: 12 }}>1</span>
        </div>
        <div
          style={{
            position: "absolute", left: p.x2[0] - 50, top: p.x2[1] - 23, width: 100, height: 46, textAlign: "center",
            fontFamily: FONT_SERIF, fontSize: 46, lineHeight: "46px", color: "#4d4d4d", whiteSpace: "nowrap",
            transform: "rotate(-90deg)",
          }}>
          <span style={{ fontStyle: "italic" }}>x</span>
          <span style={{ fontSize: 32, position: "relative", top: 12 }}>2</span>
        </div>
        <div
          style={{
            position: "absolute", left: p.title[0] - 100, top: p.title[1] - 34, width: 200, textAlign: "center",
            fontFamily: FONT_SERIF, fontSize: 64, lineHeight: "64px", color: "#000",
          }}>
          (<b>{p.letter}</b>)
        </div>
      </React.Fragment>
    ))}
  </div>
)

export default App
